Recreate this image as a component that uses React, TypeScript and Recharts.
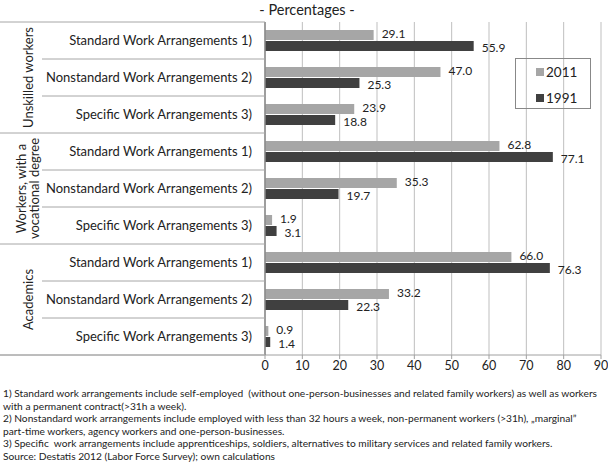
import React from "react";
import { BarChart, Bar, XAxis, YAxis, CartesianGrid, LabelList } from "recharts";

const groups = ["Unskilled workers", "Workers, with a|vocational degree", "Academics"];
const arrangements = ["Standard Work Arrangements 1)", "Nonstandard Work Arrangements 2)", "Specific Work Arrangements 3)"];
const values2011 = [29.1, 47.0, 23.9, 62.8, 35.3, 1.9, 66.0, 33.2, 0.9];
const values1991 = [55.9, 25.3, 18.8, 77.1, 19.7, 3.1, 76.3, 22.3, 1.4];
const xTicks = [0, 10, 20, 30, 40, 50, 60, 70, 80, 90];
const footnotes = [
  "1) Standard work arrangements include self-employed  (without one-person-businesses and related family workers) as well as workers",
  "with a permanent contract(>31h a week).",
  "2) Nonstandard work arrangements include employed with less than 32 hours a week, non-permanent workers (>31h), \u201emarginal\u201d",
  "part-time workers, agency workers and one-person-businesses.",
  "3) Specific  work arrangements include apprenticeships, soldiers, alternatives to military services and related family workers.",
  "Source: Destatis 2012 (Labor Force Survey); own calculations",
];

const data = values2011.map((v, i) => ({
  key: String(i),
  name: arrangements[i % 3],
  y2011: v,
  y1991: values1991[i],
}));

const FONT = "Lato, 'Open Sans', sans-serif";
const W = 608;
const H = 465;
const TOP = 22;
const BOTTOM = 110;
const AXIS_W = 265;
const ROW = (H - TOP - BOTTOM) / data.length;
const LINE = "#a6a6a6";

function CategoryTick(props: any) {
  const { y, payload, index } = props;
  const i = Number(payload.value);
  const row = data[i];
  const bottom = y + ROW / 2;
  const groupEnd = i % 3 === 2;
  const parts: React.ReactNode[] = [];
  if (i === 0) {
    parts.push(<line key="top" x1={0} x2={AXIS_W} y1={y - ROW / 2} y2={y - ROW / 2} stroke={LINE} />);
  }
  parts.push(
    <line key="b" x1={groupEnd ? 0 : 42} x2={AXIS_W} y1={bottom} y2={bottom} stroke={LINE} />
  );
  parts.push(
    <text key="t" x={252} y={y} dy={4.5} textAnchor="end" fontSize={13} fontFamily={FONT} fill="#222">
      {row.name}
    </text>
  );
  if (i % 3 === 1) {
    const lines = groups[Math.floor(i / 3)].split("|");
    const cx = 28;
    parts.push(
      <text key="g" transform={`translate(${cx},${y}) rotate(-90)`} textAnchor="middle" fontSize={13} fontFamily={FONT} fill="#222">
        {lines.map((l, k) => (
          <tspan key={k} x={0} dy={k === 0 ? 4.5 - ((lines.length - 1) * 13) / 2 : 13}>
            {l}
          </tspan>
        ))}
      </text>
    );
  }
  return <g key={index}>{parts}</g>;
}

function ValueLabel(props: any) {
  const { x, y, width, height, value, shift } = props;
  return (
    <text x={x + width + 8} y={y + height / 2 + shift} dy={4} fontSize={12} fontFamily={FONT} fill="#222">
      {Number(value).toFixed(1)}
    </text>
  );
}

export default function App() {
  return (
    <div style={{ position: "absolute", left: 0, top: 0, width: W, height: H, background: "#fff", fontFamily: FONT }}>
      <div style={{ position: "absolute", left: 0, width: 614, top: 0, textAlign: "center", fontSize: 14.5, color: "#222", lineHeight: "20px" }}>
        - Percentages -
      </div>
      <BarChart
        width={W}
        height={H}
        data={data}
        layout="vertical"
        margin={{ top: TOP, right: 7, bottom: BOTTOM - 22, left: 0 }}
        barSize={10}
        barGap={1}
      >
        <CartesianGrid horizontal={false} stroke="#bfbfbf" />
        <XAxis
          type="number"
          domain={[0, 90]}
          ticks={xTicks}
          interval={0}
          height={22}
          stroke="#a0a0a0"
          tickSize={4}
          tick={{ fontSize: 12.5, fontFamily: FONT, fill: "#222" }}
        />
        <YAxis
          type="category"
          dataKey="key"
          width={AXIS_W}
          stroke="#888"
          strokeWidth={1.5}
          tickLine={false}
          tick={<CategoryTick />}
          interval={0}
        />
        <Bar dataKey="y2011" fill="#a6a6a6" isAnimationActive={false}>
          <LabelList dataKey="y2011" content={(p: any) => <ValueLabel {...p} shift={-1.5} />} />
        </Bar>
        <Bar dataKey="y1991" fill="#404040" isAnimationActive={false}>
          <LabelList dataKey="y1991" content={(p: any) => <ValueLabel {...p} shift={1.5} />} />
        </Bar>
      </BarChart>
      <svg style={{ position: "absolute", left: 0, top: 0, pointerEvents: "none" }} width={W} height={H}>
        <line x1={0} x2={AXIS_W} y1={H - BOTTOM} y2={H - BOTTOM} stroke={LINE} />
      </svg>
      <div style={{ position: "absolute", left: 515, top: 58, width: 76, height: 51, border: "1px solid #888", boxSizing: "border-box", fontSize: 13.5, color: "#222" }}>
        <div style={{ position: "absolute", left: 20, top: 5, display: "flex", alignItems: "center" }}>
          <span style={{ width: 8, height: 8, background: "#a6a6a6", marginRight: 2, display: "inline-block" }} />2011
        </div>
        <div style={{ position: "absolute", left: 20, top: 31, display: "flex", alignItems: "center" }}>
          <span style={{ width: 8, height: 8, background: "#404040", marginRight: 2, display: "inline-block" }} />1991
        </div>
      </div>
      <div style={{ position: "absolute", left: 3, top: 387, fontSize: 10.2, lineHeight: "12.5px", color: "#222", whiteSpace: "pre" }}>
        {footnotes.map((f, i) => (
          <div key={i}>{f}</div>
        ))}
      </div>
    </div>
  );
}
